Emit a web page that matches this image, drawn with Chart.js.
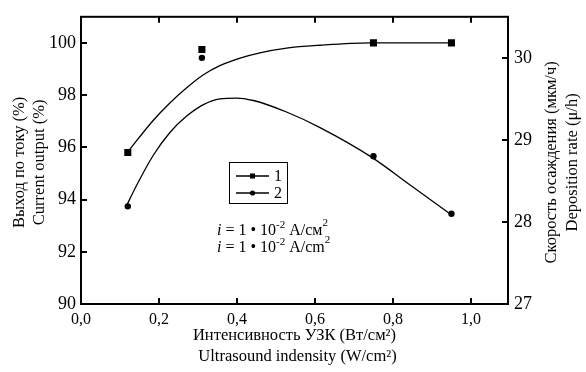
<!DOCTYPE html>
<html><head><meta charset="utf-8">
<script src="https://cdn.jsdelivr.net/npm/chart.js@4"></script>
<style>html,body{margin:0;padding:0;background:#fff}#wrap{width:586px;height:372px}</style>
</head><body><div id="wrap"><canvas id="c" width="586" height="372"></canvas></div>
<script>
// ---- data ----
const xTicks = [0, 0.2, 0.4, 0.6, 0.8, 1.0];
const leftTicks = [90, 92, 94, 96, 98, 100];
const rightTicks = [27, 28, 29, 30];
const pointX = [0.12, 0.31, 0.75, 0.95];
const series1 = [95.8, 99.75, 100.0, 100.0];      // current output (%), left axis
const series2 = [28.19, 30.0, 28.8, 28.1];        // deposition rate, right axis
const fit1X = [0.117, 0.185, 0.228, 0.271, 0.314, 0.356, 0.408, 0.459, 0.527, 0.613, 0.741, 0.946];
const fit1Y = [95.77, 97.03, 97.70, 98.28, 98.78, 99.13, 99.42, 99.62, 99.80, 99.91, 100.0, 100.0];
const fit2X = [0.117, 0.143, 0.185, 0.228, 0.271, 0.314, 0.356, 0.399, 0.442, 0.527, 0.613, 0.745, 0.844, 0.946];
const fit2Y = [28.20, 28.45, 28.81, 29.09, 29.29, 29.43, 29.50, 29.51, 29.48, 29.34, 29.15, 28.79, 28.45, 28.10];
const legendLabels = ['1', '2'];
const yTitleLeft = ['Выход по току (%)', 'Current output (%)'];
const yTitleRight = ['Скорость осаждения (мкм/ч)', 'Deposition rate (μ/h)'];
const xTitle = ['Интенсивность УЗК (Вт/см²)', 'Ultrasound indensity (W/cm²)'];

const FONT = '"Liberation Serif", "Times New Roman", serif';
const zip = (xs, ys) => xs.map((x, i) => ({x, y: ys[i]}));

function runs(ctx, x, y, parts) {
  for (const [t, f, dy] of parts) {
    ctx.font = f;
    ctx.fillText(t, x, y + dy);
    x += ctx.measureText(t).width;
  }
}

const deco = {
  id: 'deco',
  afterDraw(chart) {
    const ctx = chart.ctx, a = chart.chartArea;
    const sx = chart.scales.x, sy = chart.scales.y, sy1 = chart.scales.y1;
    ctx.save();
    ctx.strokeStyle = '#000'; ctx.lineWidth = 2;
    ctx.strokeRect(a.left, a.top, a.right - a.left, a.bottom - a.top);
    const L = 6;
    ctx.beginPath();
    for (const v of xTicks) {
      const p = Math.round(sx.getPixelForValue(v));
      ctx.moveTo(p, a.bottom); ctx.lineTo(p, a.bottom - L);
      ctx.moveTo(p, a.top); ctx.lineTo(p, a.top + L);
    }
    for (const v of leftTicks) {
      const p = Math.round(sy.getPixelForValue(v));
      ctx.moveTo(a.left, p); ctx.lineTo(a.left + L, p);
    }
    for (const v of rightTicks) {
      const p = Math.round(sy1.getPixelForValue(v));
      ctx.moveTo(a.right, p); ctx.lineTo(a.right - L, p);
    }
    ctx.stroke();

    // axis titles
    ctx.fillStyle = '#000';
    ctx.textAlign = 'center'; ctx.textBaseline = 'middle';
    ctx.font = '16.5px ' + FONT;
    const cy = (a.top + a.bottom) / 2 + 2;
    [[20, yTitleLeft[0]], [40, yTitleLeft[1]], [552, yTitleRight[0]], [573, yTitleRight[1]]].forEach(([x, t]) => {
      ctx.save(); ctx.translate(x, cy); ctx.rotate(-Math.PI / 2); ctx.fillText(t, 0, 0); ctx.restore();
    });
    const cx = (a.left + a.right) / 2;
    ctx.fillText(xTitle[0], cx, 336);
    ctx.fillText(xTitle[1], cx + 3, 357);

    // legend
    ctx.lineWidth = 1;
    ctx.strokeRect(229.5, 162.5, 58, 41);
    ctx.textAlign = 'left';
    ctx.font = '16px ' + FONT;
    [[176, 'rect'], [193, 'circle']].forEach(([y, s], i) => {
      ctx.lineWidth = 1.3;
      ctx.beginPath(); ctx.moveTo(236, y); ctx.lineTo(269, y); ctx.stroke();
      if (s === 'rect') ctx.fillRect(250, y - 2.5, 5, 5);
      else { ctx.beginPath(); ctx.arc(252.5, y, 2.6, 0, Math.PI * 2); ctx.fill(); }
      ctx.fillText(legendLabels[i], 274, y + 1);
    });

    // annotation
    ctx.textBaseline = 'alphabetic';
    const f = '16px ' + FONT, fs = '11px ' + FONT, fi = 'italic 16px ' + FONT;
    runs(ctx, 217, 235, [['i', fi, 0], [' = 1 • 10', f, 0], ['-2', fs, -7], [' A/см', f, 0], ['2', fs, -9]]);
    runs(ctx, 217, 252, [['i', fi, 0], [' = 1 • 10', f, 0], ['-2', fs, -7], [' A/cm', f, 0], ['2', fs, -9]]);
    ctx.restore();
  }
};

new Chart(document.getElementById('c'), {
  type: 'scatter',
  data: {
    datasets: [
      {data: zip(fit1X, fit1Y), type: 'line', yAxisID: 'y', borderColor: '#000', borderWidth: 1.3, pointRadius: 0, cubicInterpolationMode: 'monotone', fill: false},
      {data: zip(fit2X, fit2Y), type: 'line', yAxisID: 'y1', borderColor: '#000', borderWidth: 1.3, pointRadius: 0, cubicInterpolationMode: 'monotone', fill: false},
      {data: zip(pointX, series1), yAxisID: 'y', pointStyle: 'rect', pointRadius: 5, backgroundColor: '#000', borderColor: '#000', borderWidth: 0},
      {data: zip(pointX, series2), yAxisID: 'y1', pointStyle: 'circle', pointRadius: 3.2, backgroundColor: '#000', borderColor: '#000', borderWidth: 0}
    ]
  },
  options: {
    responsive: false, animation: false, devicePixelRatio: 1,
    layout: {padding: {top: 13, left: 0, right: 0, bottom: 0}},
    plugins: {legend: {display: false}, tooltip: {enabled: false}},
    scales: {
      x: {
        type: 'linear', min: 0, max: 1.095,
        afterBuildTicks: s => { s.ticks = xTicks.map(v => ({value: v})); },
        afterFit: s => { s.height = 68; },
        grid: {display: false, drawTicks: false}, border: {display: false},
        ticks: {color: '#000', font: {family: FONT, size: 16}, padding: 6, maxRotation: 0, autoSkip: false,
          callback: v => v.toFixed(1).replace('.', ',')}
      },
      y: {
        position: 'left', min: 90, max: 101,
        afterBuildTicks: s => { s.ticks = leftTicks.map(v => ({value: v})); },
        afterFit: s => { s.width = 81; },
        grid: {display: false, drawTicks: false}, border: {display: false},
        ticks: {color: '#000', font: {family: FONT, size: 18}, padding: 5, autoSkip: false}
      },
      y1: {
        position: 'right', min: 27, max: 30.5,
        afterBuildTicks: s => { s.ticks = rightTicks.map(v => ({value: v})); },
        afterFit: s => { s.width = 78; },
        grid: {display: false, drawTicks: false}, border: {display: false},
        ticks: {color: '#000', font: {family: FONT, size: 18}, padding: 6, autoSkip: false}
      }
    }
  },
  plugins: [deco]
});
</script>
</body></html>
